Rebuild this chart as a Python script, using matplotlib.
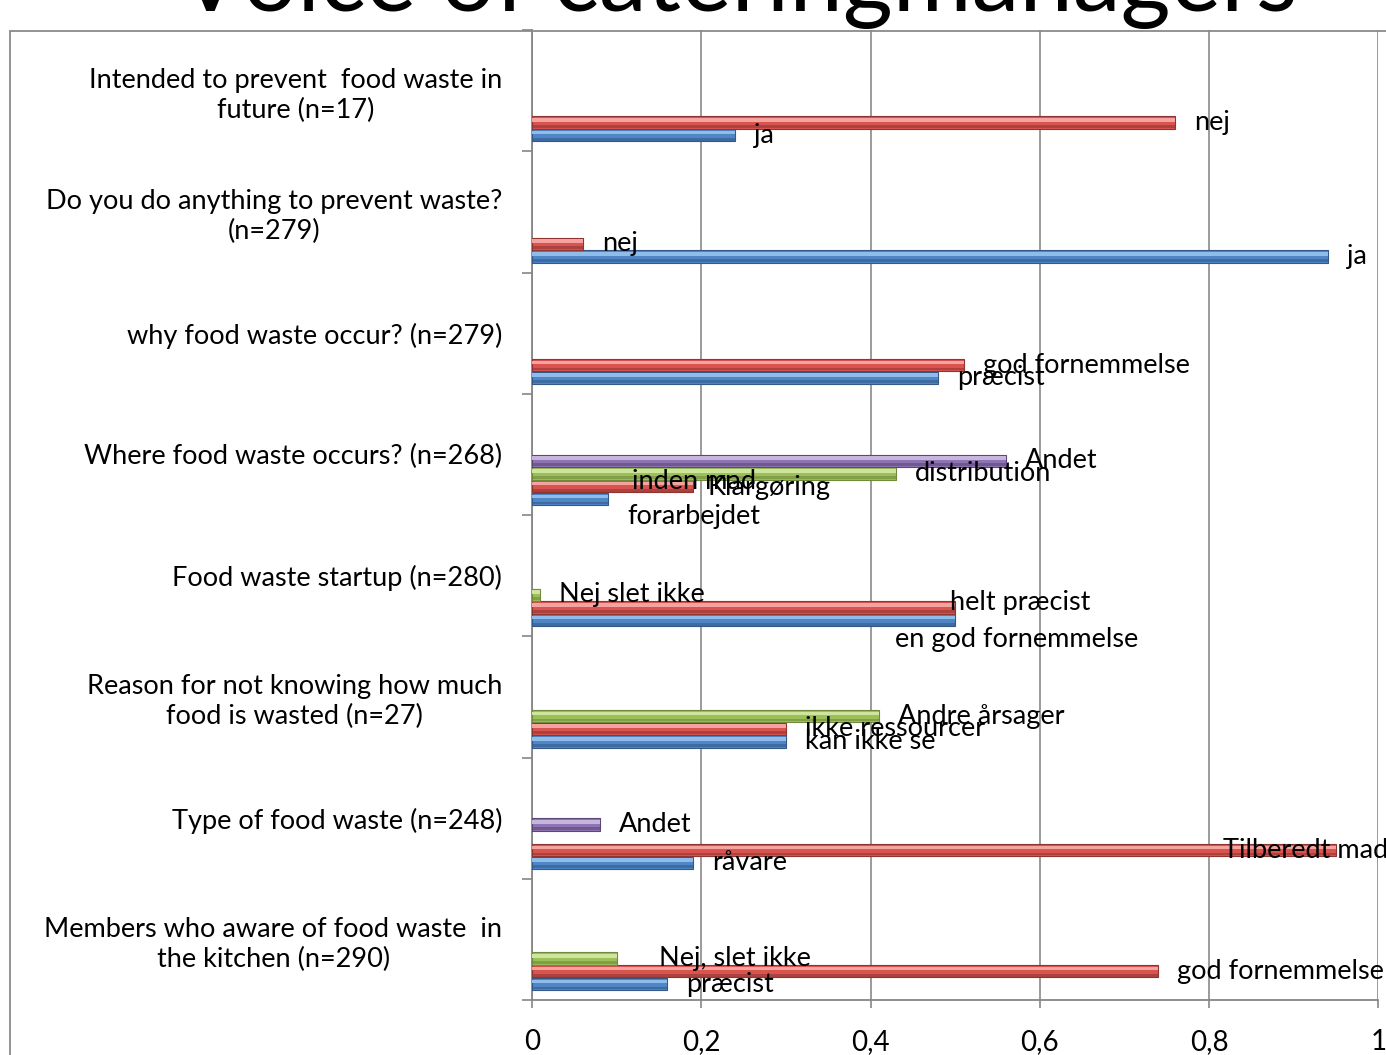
import numpy as np
import matplotlib.pyplot as plt
from matplotlib.patches import Rectangle

plt.rcParams['font.family'] = ['Lato', 'DejaVu Sans']

# data (top category first)
categories = [
    'Intended to prevent  food waste in\nfuture (n=17)',
    'Do you do anything to prevent waste?\n(n=279)',
    'why food waste occur? (n=279)',
    'Where food waste occurs? (n=268)',
    'Food waste startup (n=280)',
    'Reason for not knowing how much\nfood is wasted (n=27)',
    'Type of food waste (n=248)',
    'Members who aware of food waste  in\nthe kitchen (n=290)',
]
blue_vals = [0.24, 0.94, 0.48, 0.09, 0.50, 0.30, 0.19, 0.16]
red_vals = [0.76, 0.06, 0.51, 0.19, 0.50, 0.30, 0.95, 0.74]
green_vals = [np.nan, np.nan, np.nan, 0.43, 0.01, 0.41, np.nan, 0.10]
purple_vals = [np.nan, np.nan, np.nan, 0.56, np.nan, np.nan, 0.08, np.nan]

blue_labels = ['ja', 'ja', 'præcist', 'forarbejdet', 'en god fornemmelse',
               'kan ikke se', 'råvare', 'præcist']
red_labels = ['nej', 'nej', 'god fornemmelse', 'Klargøring', 'helt præcist',
              'ikke ressourcer', 'Tilberedt mad', 'god fornemmelse']
green_labels = ['', '', '', 'distribution', 'Nej slet ikke', 'Andre årsager',
                '', 'Nej, slet ikke']
purple_labels = ['', '', '', 'Andet', '', '', 'Andet', '']

xticks = [0, 0.2, 0.4, 0.6, 0.8, 1.0]
xticklabels = ['0', '0,2', '0,4', '0,6', '0,8', '1']

# (main, highlight, dark)
series = [
    (blue_vals, blue_labels, '#4F86C6', '#8FBCEB', '#33598A'),
    (red_vals, red_labels, '#D9534F', '#F4A3A0', '#8E3532'),
    (green_vals, green_labels, '#9BC05A', '#CFE59E', '#6E8A3A'),
    (purple_vals, purple_labels, '#8F74B4', '#C6B5DD', '#5C4776'),
]

# label nudges in pixels (dx, dy down) for overlapping labels
nudges = {(3, 0): (0, 17), (3, 1): (-4, 1), (4, 1): (-24, -5),
          (4, 0): (-79, 19), (6, 1): (-132, 0), (7, 2): (23, 0)}

FS = 19.5

fig = plt.figure(figsize=(13.86, 10.55), dpi=100)
ax = fig.add_axes([532 / 1386, 1 - 1000 / 1055, (1378.5 - 532) / 1386, 970 / 1055])

pos = np.arange(len(categories))
slot = 1 / 9.5
h = slot * 0.95
for s, (vals, labs, c, hi, dk) in enumerate(series):
    yc = pos + 0.5 - (1.25 + s) * slot
    v = np.array(vals, dtype=float)
    ax.barh(yc, v, height=h, color=c, edgecolor=dk, linewidth=0.8, zorder=3)
    ax.barh(yc - h * 0.22, v, height=h * 0.3, color=hi, linewidth=0, zorder=4)
    ax.barh(yc + h * 0.33, v, height=h * 0.22, color=dk, linewidth=0, alpha=0.6, zorder=4)
    for i, (val, lab) in enumerate(zip(v, labs)):
        if not lab or np.isnan(val):
            continue
        dx, dy = nudges.get((i, s), (0, 0))
        ax.annotate(lab, (val, yc[i]), xytext=(19 + dx, -dy), textcoords='offset pixels',
                    ha='left', va='center', fontsize=FS, zorder=6, annotation_clip=False)

# extra overlapping label in the "where" group
ax.annotate('inden mad', (red_vals[3], pos[3] + 0.5 - 2.25 * slot), xytext=(-61, 5),
            textcoords='offset pixels', ha='left', va='center', fontsize=FS,
            zorder=6, annotation_clip=False)

ax.set_xlim(0, 1)
ax.set_ylim(len(categories) - 0.5, -0.5)
ax.set_xticks(xticks)
ax.set_xticklabels(xticklabels, fontsize=20)
ax.tick_params(axis='x', length=6, color='#868686', width=1.2, pad=15)
ax.set_yticks(np.arange(len(categories) + 1) - 0.5)
ax.set_yticklabels([])
ax.set_yticks(pos, minor=True)
ax.set_yticklabels(categories, minor=True, fontsize=FS)
for t in ax.get_yticklabels(minor=True):
    t.set_multialignment('center')
    t.set_linespacing(1.25)
ax.tick_params(axis='y', which='major', length=7, color='#868686', width=1.2)
ax.tick_params(axis='y', which='minor', length=0, pad=21.5)
ax.grid(axis='x', color='#8A8A8A', linewidth=1.2, zorder=0)
ax.set_axisbelow(True)
for sp in ['top', 'right']:
    ax.spines[sp].set_visible(False)
for sp in ['left', 'bottom']:
    ax.spines[sp].set_color('#868686')
    ax.spines[sp].set_linewidth(1.3)

# chart area frame
fig.patches.append(Rectangle((10 / 1386, -0.1), 1.2, 1.1 - 31 / 1055, transform=fig.transFigure,
                             fill=False, edgecolor='#8A8A8A', linewidth=1.3))

fig.text(738 / 1386, 1 - 11 / 1055, 'Voice of cateringmanagers', ha='center', va='baseline',
         fontsize=69)

fig.savefig('out.png', dpi=100)
